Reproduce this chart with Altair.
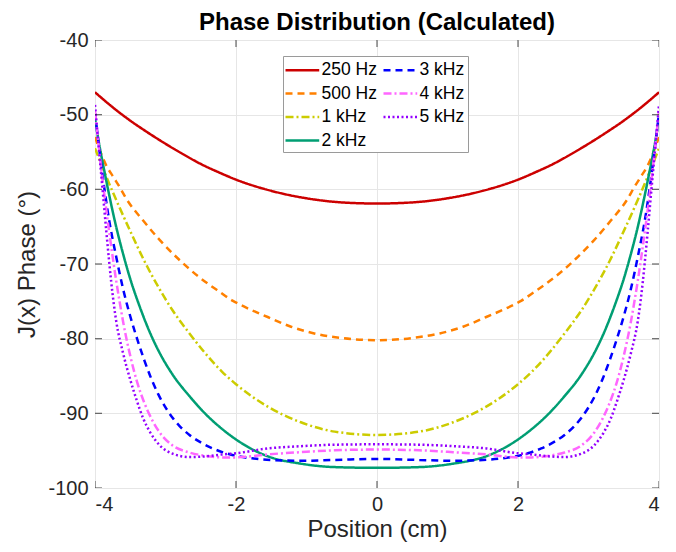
import altair as alt
import pandas as pd

FONT = "Liberation Sans"

labels = ["250 Hz", "500 Hz", "1 kHz", "2 kHz", "3 kHz", "4 kHz", "5 kHz"]
colors = ["#cc0000", "#ff8000", "#cccc00", "#009e73", "#0000ff", "#ff66ff", "#9400ff"]
dashes = [[1, 0], [7, 5], [8, 3, 2, 3], [1, 0], [7, 5], [8, 3, 2, 3], [2, 2.5]]

# left half readings (x in cm, phase in degrees); curves are symmetric about x = 0
x_250 = [-4.0, -3.75, -3.5, -3.25, -3.0, -2.75, -2.5, -2.25, -2.0, -1.5, -1.0, -0.5, 0.0]
v_250 = [-47.0, -49.0, -50.8, -52.4, -53.9, -55.3, -56.6, -57.7, -58.7, -60.2, -61.2, -61.75, -61.9]

x_500 = [-4.0, -3.84, -3.74, -3.65, -3.56, -3.32, -3.08, -2.82, -2.53, -2.23, -2.05, -1.93, -1.55, -1.22, -0.89, -0.51, 0.0]
v_500 = [-53.0, -56.8, -58.35, -59.7, -61.2, -64.15, -66.8, -69.3, -71.7, -73.75, -74.9, -75.5, -77.1, -78.4, -79.3, -79.9, -80.2]

x_1k = [-4.0, -3.9, -3.8, -3.7, -3.5, -3.3, -3.1, -2.9, -2.66, -2.45, -2.2, -2.0, -1.55, -1.08, -0.6, 0.0]
v_1k = [-54.5, -56.9, -59.2, -61.4, -65.6, -69.6, -73.1, -76.2, -79.3, -81.8, -84.4, -86.1, -89.1, -91.2, -92.45, -92.9]

x_2k = [-4.0, -3.96, -3.86, -3.8, -3.7, -3.6, -3.5, -3.37, -3.22, -3.1, -2.9, -2.66, -2.42, -2.19, -2.0, -1.55, -1.08, -0.6, 0.0]
v_2k = [-50.5, -52.9, -57.9, -60.7, -65.0, -68.7, -72.0, -75.6, -79.2, -81.6, -84.8, -87.7, -90.2, -92.15, -93.5, -95.75, -96.74, -97.2, -97.3]

x_3k = [-4.0, -3.9, -3.8, -3.7, -3.6, -3.5, -3.4, -3.3, -3.2, -3.1, -3.0, -2.9, -2.8, -2.66, -2.5, -2.33, -2.14, -2.0, -1.75, -1.5, -1.08, -0.6, 0.0]
v_3k = [-49.8, -57.6, -64.1, -69.0, -73.4, -77.0, -80.1, -82.9, -85.4, -87.5, -89.2, -90.6, -91.7, -92.9, -93.9, -94.7, -95.35, -95.7, -96.05, -96.25, -96.35, -96.25, -96.1]

x_4k = [-4.0, -3.95, -3.9, -3.85, -3.8, -3.75, -3.7, -3.65, -3.6, -3.5, -3.4, -3.3, -3.2, -3.08, -2.9, -2.66, -2.42, -2.19, -2.0, -1.55, -1.08, -0.6, 0.0]
v_4k = [-49.5, -54.0, -58.2, -62.0, -65.6, -69.0, -72.2, -75.1, -77.8, -82.3, -85.9, -88.6, -90.7, -92.6, -94.3, -95.25, -95.7, -95.9, -95.9, -95.5, -95.2, -94.95, -94.85]

x_5k = [-4.0, -3.96, -3.92, -3.89, -3.84, -3.8, -3.77, -3.7, -3.6, -3.5, -3.41, -3.32, -3.22, -3.08, -2.9, -2.66, -2.42, -2.19, -2.0, -1.55, -1.08, -0.6, 0.0]
v_5k = [-48.7, -53.0, -57.2, -60.3, -65.6, -69.6, -72.4, -77.6, -82.0, -85.5, -88.2, -90.6, -92.5, -94.3, -95.4, -95.85, -95.75, -95.5, -95.35, -94.7, -94.4, -94.2, -94.15]

x_ticks = [-4, -2, 0, 2, 4]
y_ticks = [-100, -90, -80, -70, -60, -50, -40]

series = [
    ("250 Hz", x_250, v_250),
    ("500 Hz", x_500, v_500),
    ("1 kHz", x_1k, v_1k),
    ("2 kHz", x_2k, v_2k),
    ("3 kHz", x_3k, v_3k),
    ("4 kHz", x_4k, v_4k),
    ("5 kHz", x_5k, v_5k),
]

rows = []
for lab, xs, vs in series:
    left = list(zip(xs, vs))
    right = [(-x, v) for x, v in reversed(left[:-1])]
    for x, v in left + right:
        rows.append({"f": lab, "x": x, "v": v})
df = pd.DataFrame(rows)

xs_scale = alt.Scale(domain=[x_ticks[0], x_ticks[-1]], nice=False)
ys_scale = alt.Scale(domain=[y_ticks[0], y_ticks[-1]], nice=False)

common_axis = dict(grid=True, gridColor="#e6e6e6", ticks=False, domain=False,
                   labelFontSize=20, labelColor="#262626", labelFont=FONT,
                   labelExpr="'' + datum.value",
                   titleFontSize=24, titleFontWeight="normal", titleColor="#262626", titleFont=FONT)
x_axis = alt.Axis(values=x_ticks, labelPadding=6, title="Position (cm)", titlePadding=3, **common_axis)
y_axis = alt.Axis(values=y_ticks, labelPadding=7, title="J(x) Phase (°)", titlePadding=8, **common_axis)

legend = alt.Legend(title=None, orient="none", legendX=188, legendY=16, columns=2,
                    symbolType="M-2.0,0H1.55", symbolSize=361, symbolStrokeWidth=2.5,
                    symbolOffset=7.5, labelOffset=6,
                    labelFontSize=17.5, labelFont=FONT, labelColor="black",
                    fillColor="white", strokeColor="#9a9a9a", padding=3,
                    columnPadding=1, rowPadding=3.5)

lines = alt.Chart(df).mark_line(strokeWidth=2.5, interpolate="monotone", clip=True).encode(
    x=alt.X("x:Q", scale=xs_scale, axis=x_axis),
    y=alt.Y("v:Q", scale=ys_scale, axis=y_axis),
    color=alt.Color("f:N", scale=alt.Scale(domain=labels, range=colors), legend=legend),
    strokeDash=alt.StrokeDash("f:N", scale=alt.Scale(domain=labels, range=dashes), legend=legend),
)

xt = pd.DataFrame([{"x": t, "v": y} for t in x_ticks for y in (y_ticks[0], y_ticks[-1])])
yt = pd.DataFrame([{"x": x, "v": t} for t in y_ticks for x in (x_ticks[0], x_ticks[-1])])

xtick_layer = alt.Chart(xt).mark_tick(orient="vertical", size=14, thickness=1.2, color="#262626", clip=True).encode(
    x=alt.X("x:Q", scale=xs_scale), y=alt.Y("v:Q", scale=ys_scale))
ytick_layer = alt.Chart(yt).mark_tick(orient="horizontal", size=14, thickness=1.2, color="#262626", clip=True).encode(
    x=alt.X("x:Q", scale=xs_scale), y=alt.Y("v:Q", scale=ys_scale))

chart = alt.layer(lines, xtick_layer, ytick_layer).properties(
    width=564, height=448,
    title=alt.TitleParams("Phase Distribution (Calculated)", fontSize=24, fontWeight="bold",
                          font=FONT, anchor="middle", offset=-5, color="black"),
    autosize=alt.AutoSizeParams(type="none"),
    padding={"left": 87, "top": 32, "right": 9, "bottom": 56},
).configure_view(stroke="#262626", strokeWidth=1.2).configure(background="white")

chart.save("out.html", embed_options={"renderer": "svg", "actions": False})
